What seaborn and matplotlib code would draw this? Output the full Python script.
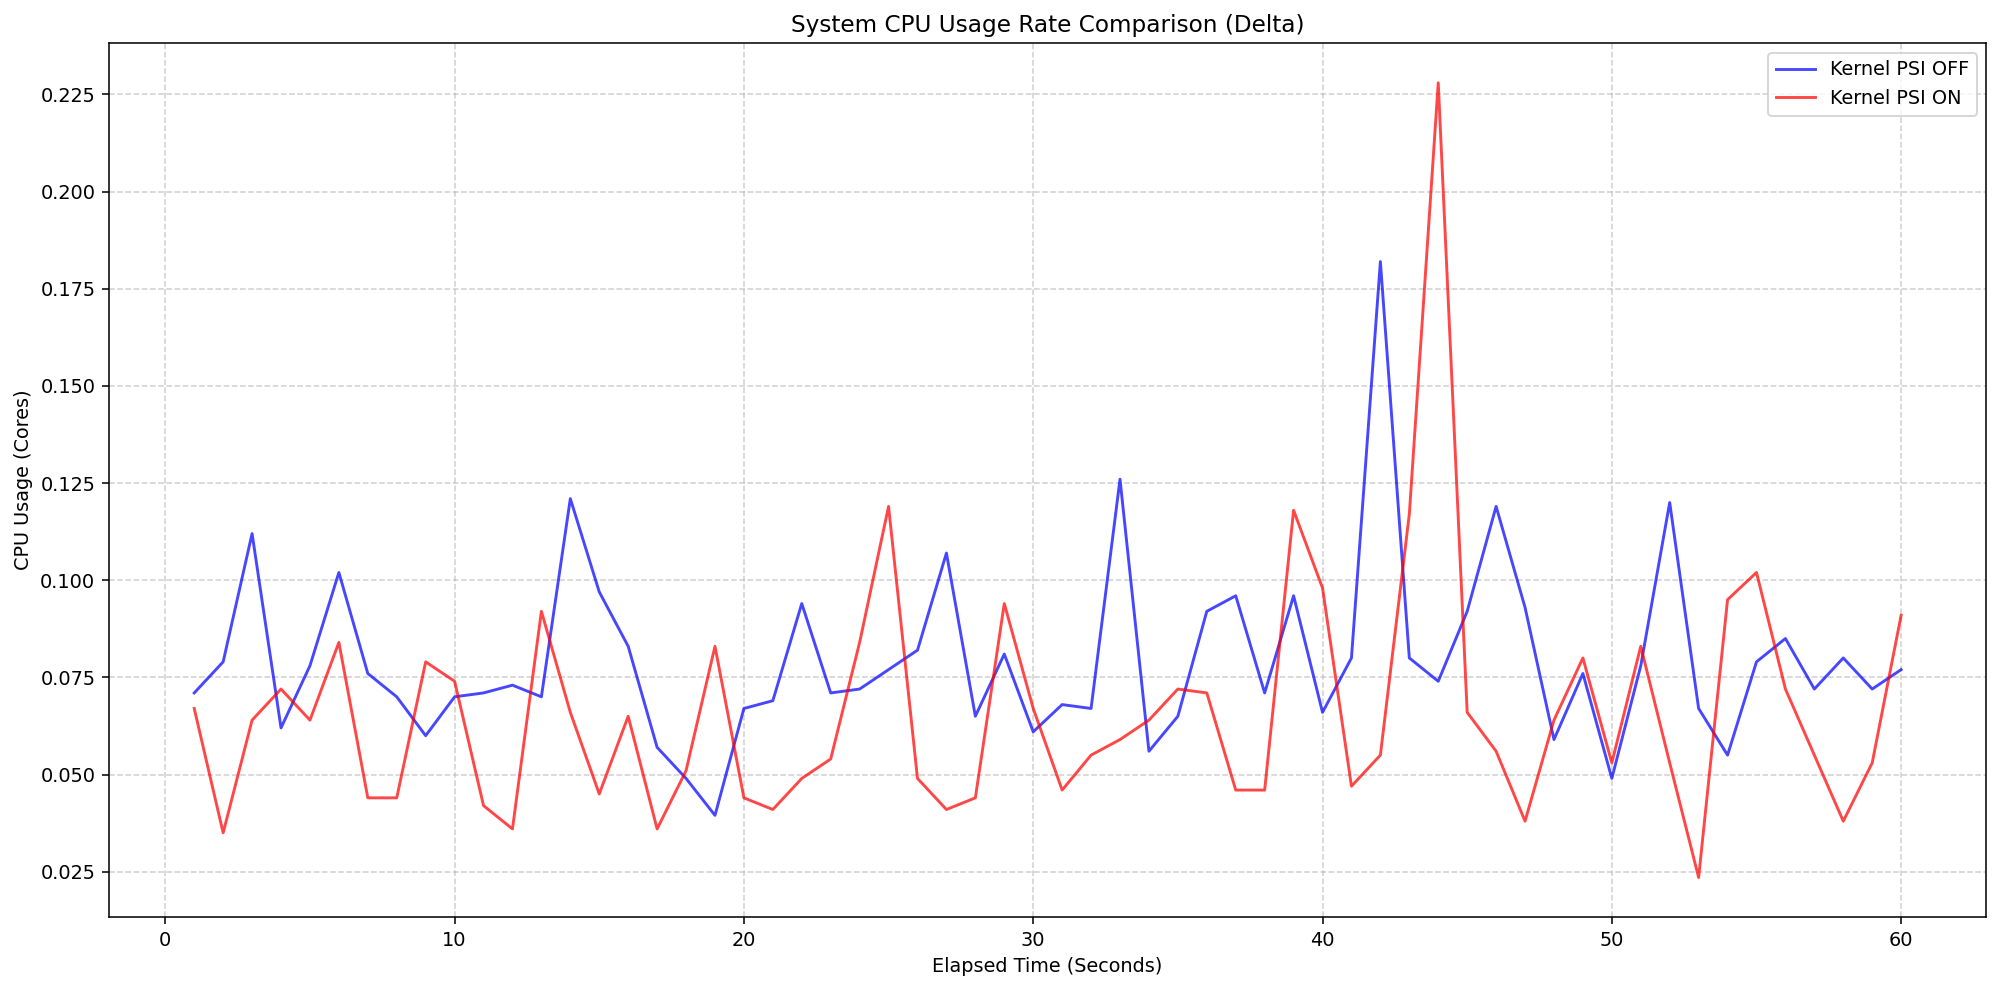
import numpy as np
import pandas as pd
import matplotlib
matplotlib.use("Agg")
import matplotlib.pyplot as plt
import seaborn as sns

seconds = list(range(1, 61))
psi_off = [0.071, 0.079, 0.112, 0.062, 0.078, 0.102, 0.076, 0.070, 0.060, 0.070,
           0.071, 0.073, 0.070, 0.121, 0.097, 0.083, 0.057, 0.049, 0.0395, 0.067,
           0.069, 0.094, 0.071, 0.072, 0.077, 0.082, 0.107, 0.065, 0.081, 0.061,
           0.068, 0.067, 0.126, 0.056, 0.065, 0.092, 0.096, 0.071, 0.096, 0.066,
           0.080, 0.182, 0.080, 0.074, 0.092, 0.119, 0.093, 0.059, 0.076, 0.049,
           0.078, 0.120, 0.067, 0.055, 0.079, 0.085, 0.072, 0.080, 0.072, 0.077]
psi_on = [0.067, 0.035, 0.064, 0.072, 0.064, 0.084, 0.044, 0.044, 0.079, 0.074,
          0.042, 0.036, 0.092, 0.066, 0.045, 0.065, 0.036, 0.051, 0.083, 0.044,
          0.041, 0.049, 0.054, 0.084, 0.119, 0.049, 0.041, 0.044, 0.094, 0.067,
          0.046, 0.055, 0.059, 0.064, 0.072, 0.071, 0.046, 0.046, 0.118, 0.098,
          0.047, 0.055, 0.117, 0.228, 0.066, 0.056, 0.038, 0.064, 0.080, 0.053,
          0.083, 0.053, 0.0235, 0.095, 0.102, 0.072, 0.055, 0.038, 0.053, 0.091]

df = pd.DataFrame({
    "t": seconds * 2,
    "v": psi_off + psi_on,
    "s": ["Kernel PSI OFF"] * 60 + ["Kernel PSI ON"] * 60,
})

dpi = 139
fig, ax = plt.subplots(figsize=(2000 / dpi, 990 / dpi), dpi=dpi)
sns.lineplot(data=df, x="t", y="v", hue="s",
             palette={"Kernel PSI OFF": "blue", "Kernel PSI ON": "red"},
             alpha=0.72, linewidth=1.5, ax=ax)
ax.set_title("System CPU Usage Rate Comparison (Delta)", fontsize=12)
ax.set_xlabel("Elapsed Time (Seconds)")
ax.set_ylabel("CPU Usage (Cores)")
ax.grid(True, linestyle="--", alpha=0.6)
ax.legend(loc="upper right", title=None)
fig.tight_layout(pad=0.7)
fig.savefig("out.png", dpi=dpi)
